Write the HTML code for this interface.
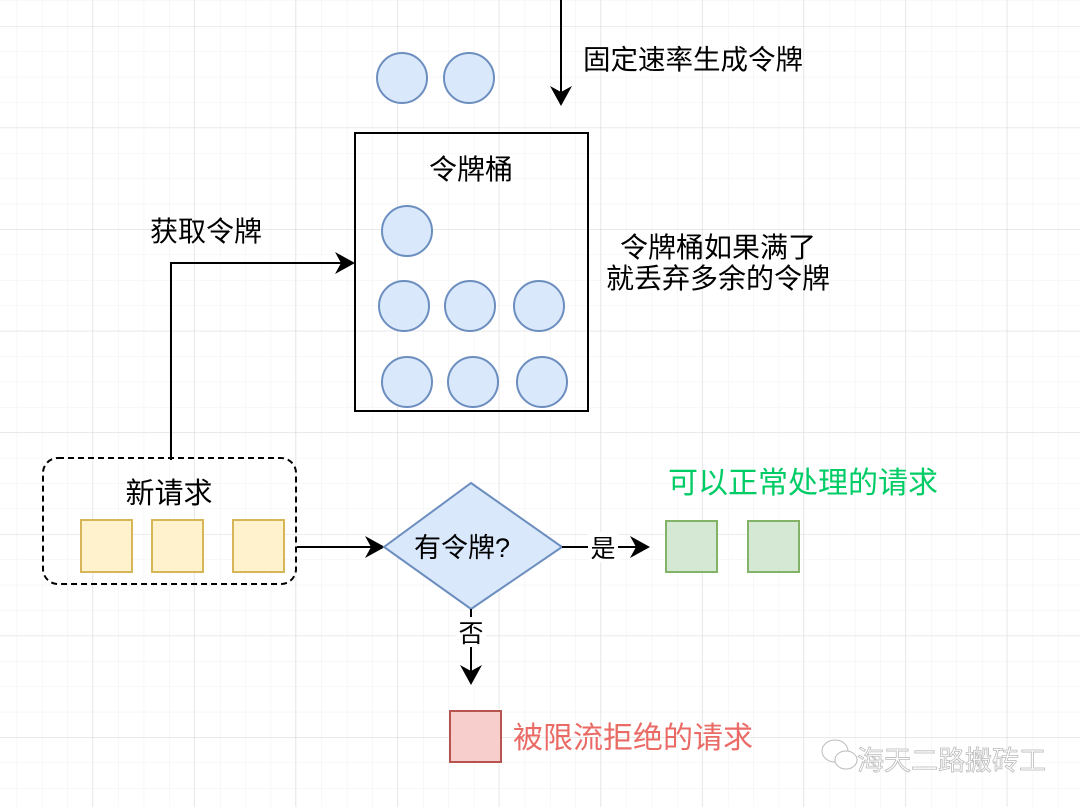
<!DOCTYPE html>
<html><head><meta charset="utf-8"><style>
html,body{margin:0;padding:0;background:#fff}
svg text{font-family:"Liberation Sans","Noto Sans CJK SC",sans-serif}
</style></head><body>
<svg width="1080" height="807" viewBox="0 0 1080 807" xmlns="http://www.w3.org/2000/svg">
<defs>
<pattern id="minor" x="-8.7" y="0.6" width="25.4" height="25.4" patternUnits="userSpaceOnUse">
<path d="M0 0H25.4M0 0V25.4" stroke="#f0f0f0" stroke-width="1" fill="none"/>
</pattern>
<pattern id="major" x="-9.3" y="26" width="101.6" height="101.6" patternUnits="userSpaceOnUse">
<path d="M0 0H101.6M0 0V101.6" stroke="#dadada" stroke-width="1" fill="none"/>
</pattern>
</defs>
<rect width="1080" height="807" fill="url(#minor)"/>
<rect width="1080" height="807" fill="url(#major)"/>
<g fill="#dae8fc" stroke="#6c8ebf" stroke-width="2">
<circle cx="402" cy="78" r="25"/><circle cx="469" cy="78" r="25"/>
</g>
<line x1="561" y1="0" x2="561" y2="96" stroke="#000" stroke-width="2"/>
<path d="M550 86L561 106L572 86L561 92Z" fill="#000"/>
<text x="583" y="69" font-size="27.5">固定速率生成令牌</text>
<rect x="355" y="133" width="233" height="278" fill="none" stroke="#000" stroke-width="2"/>
<text x="471" y="179" font-size="28" text-anchor="middle">令牌桶</text>
<g fill="#dae8fc" stroke="#6c8ebf" stroke-width="2">
<circle cx="407" cy="231" r="25"/>
<circle cx="404" cy="306" r="25"/><circle cx="470" cy="306" r="25"/><circle cx="539" cy="306" r="25"/>
<circle cx="407" cy="382" r="25"/><circle cx="473" cy="382" r="25"/><circle cx="542" cy="382" r="25"/>
</g>
<text x="620" y="257" font-size="28">令牌桶如果满了</text>
<text x="606" y="288" font-size="28">就丢弃多余的令牌</text>
<text x="150" y="241" font-size="28">获取令牌</text>
<path d="M171 460V263H343" fill="none" stroke="#000" stroke-width="2"/>
<path d="M335 252L355 263L335 274L341 263Z" fill="#000"/>
<rect x="43" y="458" width="253" height="126" rx="15" fill="none" stroke="#000" stroke-width="2" stroke-dasharray="6 4"/>
<text x="169" y="503" font-size="29" text-anchor="middle">新请求</text>
<g fill="#fff2cc" stroke="#d6b656" stroke-width="2">
<rect x="81" y="520" width="51" height="52"/><rect x="152" y="520" width="51" height="52"/><rect x="233" y="520" width="51" height="52"/>
</g>
<line x1="297" y1="547" x2="375" y2="547" stroke="#000" stroke-width="2"/>
<path d="M365 536L385 547L365 558L371 547Z" fill="#000"/>
<polygon points="471,483 562,547 471,609 384,547" fill="#dae8fc" stroke="#6c8ebf" stroke-width="2"/>
<text x="462" y="557" font-size="27" text-anchor="middle">有令牌?</text>
<line x1="562" y1="547" x2="640" y2="547" stroke="#000" stroke-width="2"/>
<rect x="588" y="532" width="30" height="30" fill="#fff"/>
<text x="603" y="557" font-size="25" text-anchor="middle">是</text>
<path d="M630 536L650 547L630 558L636 547Z" fill="#000"/>
<g fill="#d5e8d4" stroke="#82b366" stroke-width="2">
<rect x="666" y="521" width="51" height="51"/><rect x="748" y="521" width="51" height="51"/>
</g>
<text x="668" y="493" font-size="30" fill="#00cc66">可以正常处理的请求</text>
<line x1="471" y1="609" x2="471" y2="675" stroke="#000" stroke-width="2"/>
<rect x="456" y="617" width="30" height="30" fill="#fff"/>
<text x="471" y="642" font-size="25" text-anchor="middle">否</text>
<path d="M460 665L471 685L482 665L471 671Z" fill="#000"/>
<rect x="450" y="711" width="51" height="51" fill="#f8cecc" stroke="#b85450" stroke-width="2"/>
<text x="513" y="748" font-size="30" fill="#ea6b66">被限流拒绝的请求</text>
<g fill="#fff" stroke="#bbb" stroke-width="1">
<ellipse cx="835" cy="751" rx="13" ry="11"/>
<ellipse cx="846" cy="760" rx="11" ry="9"/>
</g>
<text x="857" y="770" font-size="27" fill="#fff" stroke="#bbb" stroke-width="0.8">海天二路搬砖工</text>
</svg>
</body></html>
